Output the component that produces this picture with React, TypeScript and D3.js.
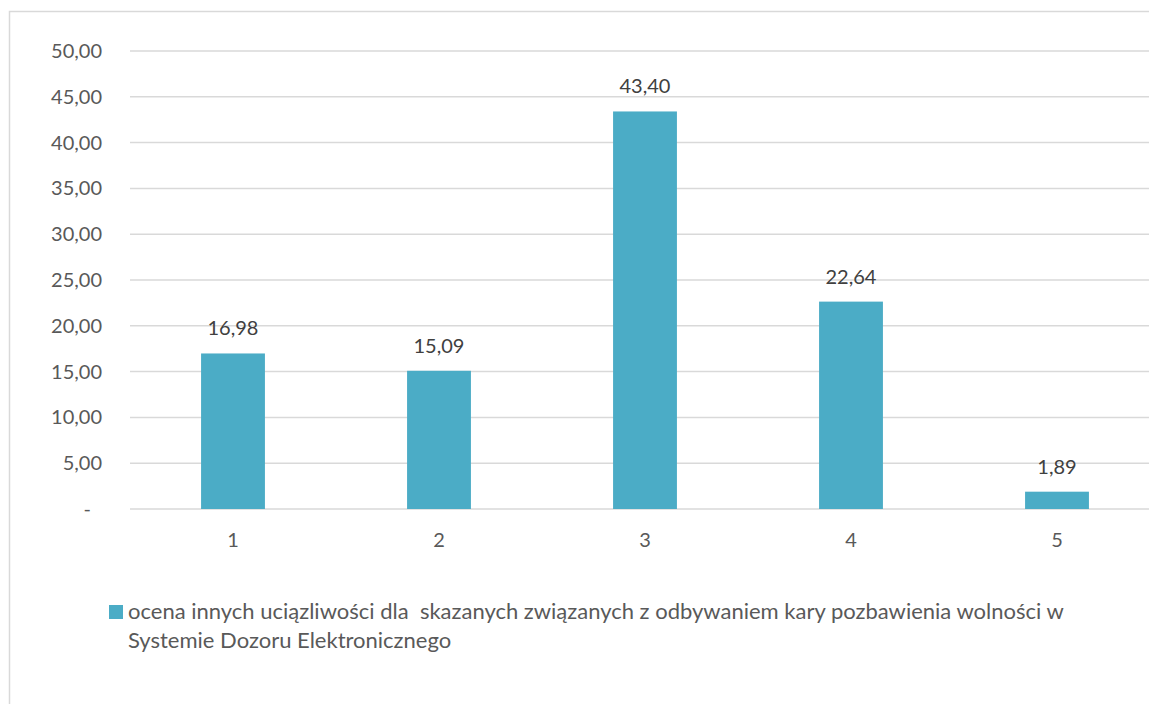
import React from "react";
import * as d3 from "d3";

const categories = ["1", "2", "3", "4", "5"];
const values = [16.98, 15.09, 43.4, 22.64, 1.89];
const yTicks = [0, 5, 10, 15, 20, 25, 30, 35, 40, 45, 50];
const seriesName =
  "ocena innych uciązliwości dla  skazanych związanych z odbywaniem kary pozbawienia wolności w";
const seriesName2 = "Systemie Dozoru Elektronicznego";

const W = 1149;
const H = 704;
const FONT = "Lato, 'Open Sans', sans-serif";
const FS = 20;

export default function App() {
  const x = d3.scaleBand<string>().domain(categories).range([130, 1160]).paddingInner(0.69).paddingOuter(0.345);
  const y = d3.scaleLinear().domain([0, 50]).range([509, 51]);
  const fmt = (v: number) => (v === 0 ? "-" : v.toFixed(2).replace(".", ","));

  return (
    <svg
      width={W}
      height={H}
      style={{ position: "absolute", left: 0, top: 0, background: "#fff" }}
      fontFamily={FONT}
    >
      <rect x={9.5} y={11.5} width={1200} height={800} fill="#fff" stroke="#d9d9d9" strokeWidth={1.5} />
      {yTicks.map((t) => (
        <g key={t}>
          <line x1={130} x2={1160} y1={y(t)} y2={y(t)} stroke="#d9d9d9" strokeWidth={1.5} />
          <text x={t === 0 ? 91 : 102} y={y(t)} dy="0.35em" textAnchor="end" fontSize={FS} fill="#595959">
            {fmt(t)}
          </text>
        </g>
      ))}
      {categories.map((c, i) => (
        <g key={c}>
          <rect
            x={x(c)!}
            y={y(values[i])}
            width={x.bandwidth()}
            height={y(0) - y(values[i])}
            fill="#4bacc6"
          />
          <text
            x={x(c)! + x.bandwidth() / 2}
            y={y(values[i]) - 18}
            textAnchor="middle"
            fontSize={FS}
            fill="#404040"
          >
            {fmt(values[i])}
          </text>
          <text x={x(c)! + x.bandwidth() / 2} y={547} textAnchor="middle" fontSize={FS} fill="#595959">
            {c}
          </text>
        </g>
      ))}
      <rect x={109} y={605} width={14} height={14} fill="#4bacc6" />
      <text x={128} y={619} fontSize={22} fill="#595959" style={{ whiteSpace: "pre" }}>
        {seriesName}
      </text>
      <text x={128} y={648} fontSize={22} fill="#595959">
        {seriesName2}
      </text>
    </svg>
  );
}
